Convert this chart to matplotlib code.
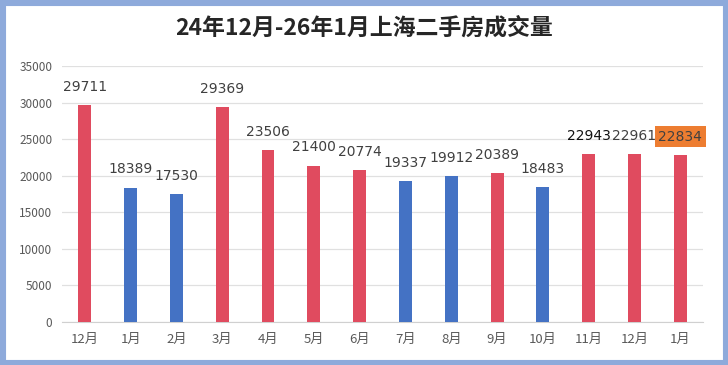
import matplotlib
matplotlib.use("Agg")
import matplotlib.pyplot as plt
from matplotlib.patches import Rectangle

plt.rcParams["font.family"] = ["Noto Sans CJK SC", "DejaVu Sans"]

months = ["12月", "1月", "2月", "3月", "4月", "5月", "6月",
          "7月", "8月", "9月", "10月", "11月", "12月", "1月"]
volumes = [29711, 18389, 17530, 29369, 23506, 21400, 20774,
           19337, 19912, 20389, 18483, 22943, 22961, 22834]
# r = red (up), b = blue (down)
kinds = ["r", "b", "b", "r", "r", "r", "r", "b", "b", "r", "b", "r", "r", "r"]

RED = "#e04b5f"
BLUE = "#4472c4"
colors = [RED if k == "r" else BLUE for k in kinds]

fig = plt.figure(figsize=(7.28, 3.65), dpi=100)
fig.patches.append(Rectangle((0, 0), 1, 1, transform=fig.transFigure,
                             fill=False, edgecolor="#8eaadb", linewidth=8))

ax = fig.add_axes([0.085, 0.1178, 0.881, 0.701])
x = list(range(len(months)))
ax.bar(x, volumes, width=0.28, color=colors, zorder=3)

ax.set_xlim(-0.5, len(months) - 0.5)
ax.set_ylim(0, 35000)
ax.set_yticks(range(0, 35001, 5000))
ax.set_xticks(x)
ax.set_xticklabels(months)
ax.grid(axis="y", color="#e0e0e0", linewidth=0.9, zorder=0)
for s in ["top", "right", "left"]:
    ax.spines[s].set_visible(False)
ax.spines["bottom"].set_color("#d0d0d0")
ax.tick_params(axis="both", length=0, colors="#595959", labelsize=8.5)
ax.tick_params(axis="y", pad=7)
ax.tick_params(axis="x", pad=8, labelsize=9.5)

for i, v in enumerate(volumes):
    kw = dict(ha="center", va="bottom", fontsize=10, color="#404040",
              textcoords="offset points", xytext=(0, 8), family="DejaVu Sans")
    if i == len(volumes) - 1:
        kw["bbox"] = dict(boxstyle="square,pad=0.25", fc="#ed7d31", ec="none")
    if i == 11:
        kw["color"] = "#111111"
    ax.annotate(str(v), (i, v), **kw)

fig.text(0.5, 0.922, "24年12月-26年1月上海二手房成交量", ha="center", va="center",
         fontsize=16.5, fontweight="bold", color="#262626")

fig.savefig("out.png", dpi=100)
